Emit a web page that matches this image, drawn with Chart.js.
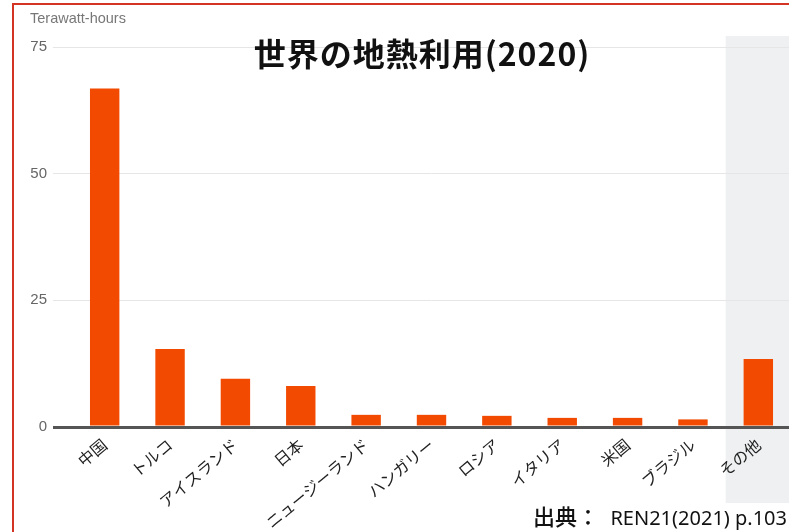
<!DOCTYPE html>
<html>
<head>
<meta charset="utf-8">
<script src="https://cdn.jsdelivr.net/npm/chart.js@4.4.1/dist/chart.umd.min.js"></script>
<style>
  html, body { margin: 0; padding: 0; overflow: hidden; background: #fff; }
  #wrap { position: relative; width: 789px; height: 532px; overflow: hidden; }
  #wrap canvas { position: absolute; left: 0; top: 0; }
  #frame {
    position: absolute; left: 12px; top: 3px; width: 900px; height: 700px;
    border-left: 2px solid #d43424; border-top: 2px solid #d43424;
    pointer-events: none;
  }
</style>
</head>
<body>
<div id="wrap">
  <canvas id="chartGeo" width="791" height="532"></canvas>
  <div id="frame"></div>
</div>
<script>
// 地熱利用量 (TWh, 2020)
const countries = ["中国", "トルコ", "アイスランド", "日本", "ニュージーランド", "ハンガリー", "ロシア", "イタリア", "米国", "ブラジル", "その他"];
const twh = [66.8, 15.4, 9.5, 8.1, 2.4, 2.4, 2.2, 1.8, 1.8, 1.5, 13.4];
const yTicks = [0, 25, 50, 75];

const titleText = "世界の地熱利用(2020)";
const unitText = "Terawatt-hours";
const sourceHead = "出典：";
const sourceRef = "REN21(2021) p.103";
const highlightIndex = countries.length - 1;

const JP = '"Noto Sans CJK JP", "Noto Sans", sans-serif';
const SANS = '"Liberation Sans", Arial, sans-serif';

const decor = {
  id: "decor",
  beforeDraw(chart) {
    // 「その他」の背景帯
    const { ctx, scales: { x } } = chart;
    const step = x.getPixelForValue(1) - x.getPixelForValue(0);
    const left = x.getPixelForValue(highlightIndex) - step / 2;
    ctx.save();
    ctx.fillStyle = "#eef0f1";
    ctx.fillRect(left, 36, chart.width - left, 467);
    ctx.restore();
  },
  afterDraw(chart) {
    const { ctx } = chart;
    ctx.save();
    ctx.fillStyle = "#777";
    ctx.font = "14.5px " + SANS;
    ctx.textAlign = "left";
    ctx.textBaseline = "alphabetic";
    ctx.fillText(unitText, 30, 23);

    ctx.fillStyle = "#111";
    ctx.font = "bold 32px " + JP;
    ctx.letterSpacing = "1px";
    ctx.textAlign = "center";
    ctx.textBaseline = "middle";
    ctx.fillText(titleText, 422, 54);
    ctx.letterSpacing = "0px";

    // 出典
    ctx.textBaseline = "alphabetic";
    ctx.textAlign = "right";
    ctx.font = '20px "Noto Sans", "Open Sans", sans-serif';
    ctx.fillText(sourceRef, 787, 525);
    ctx.textAlign = "left";
    ctx.font = "500 22px " + JP;
    ctx.fillText(sourceHead, 533, 525);
    ctx.restore();
  }
};

new Chart(document.getElementById("chartGeo"), {
  type: "bar",
  data: {
    labels: countries,
    datasets: [{
      data: twh,
      backgroundColor: "#f24a00",
      barPercentage: 0.9,
      categoryPercentage: 0.5
    }]
  },
  options: {
    responsive: false,
    animation: false,
    layout: { padding: { top: 47, left: 0, right: 0, bottom: 0 } },
    plugins: {
      legend: { display: false },
      tooltip: { enabled: false }
    },
    scales: {
      x: {
        grid: { display: false },
        border: { display: false },
        ticks: {
          color: "#222",
          font: { family: JP, size: 16 },
          minRotation: 40,
          maxRotation: 40,
          padding: 0,
          autoSkip: false
        },
        afterFit: s => { s.height = 105; }
      },
      y: {
        min: 0,
        max: 75,
        afterBuildTicks: s => { s.ticks = yTicks.map(v => ({ value: v })); },
        border: { display: false },
        grid: {
          tickLength: 19,
          color: c => (c.tick && c.tick.value === 0) ? "#555" : "#e6e6e6",
          lineWidth: c => (c.tick && c.tick.value === 0) ? 3 : 1
        },
        ticks: {
          color: "#666",
          font: { family: SANS, size: 15 },
          padding: 6
        },
        afterFit: s => { s.width = 72; }
      }
    }
  },
  plugins: [decor]
});
</script>
</body>
</html>
